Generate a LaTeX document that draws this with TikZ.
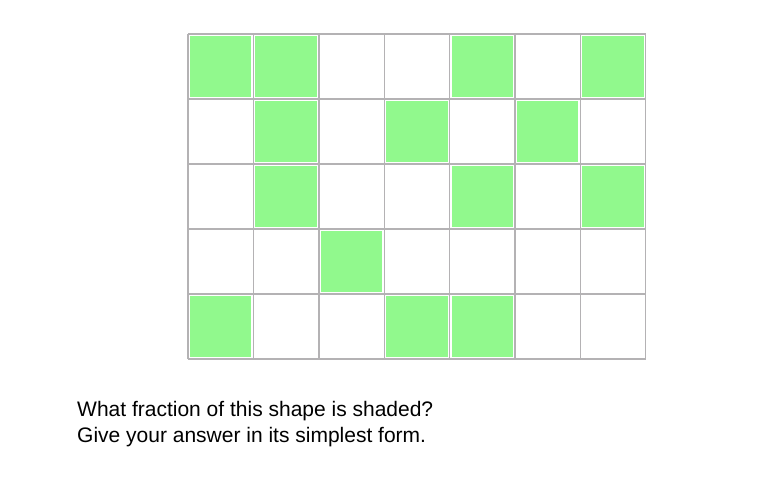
\documentclass[tikz,border=0pt]{standalone}
\usepackage{fontspec}
\setmainfont{Liberation Sans}
\usepackage{xcolor}
\usepackage{tikz}
\definecolor{gridline}{HTML}{B4B2B4}
\definecolor{shade}{HTML}{91F98D}
\definecolor{text}{HTML}{000000}
\tikzset{
  cell/.style={draw=gridline, line width=1.4pt, xstep=65.4pt, ystep=65pt},
  filled/.style={fill=shade},
  question/.style={text=text, font=\fontsize{21}{26}\selectfont, anchor=base west, inner sep=0pt},
}

\begin{document}
\begin{tikzpicture}[x=65.4pt, y=65pt]
  \useasboundingbox (-188pt,-118pt) rectangle (590pt,359pt);

  % shaded squares, (column,row) counted from the bottom left
  \foreach \c/\r in {0/4,1/4,4/4,6/4, 1/3,3/3,5/3, 1/2,4/2,6/2, 2/1, 0/0,3/0,4/0}
    \fill[filled] ([shift={(2pt,2pt)}]\c,\r) rectangle ([shift={(-2pt,-2pt)}]\c+1,\r+1);

  \draw[cell] (0,0) grid (7,5);

  \node[question] (ask) at (-111pt,-57pt) {What fraction of this shape is shaded?};
  \node[question] (form) at (-111pt,-83pt) {Give your answer in its simplest form.};
\end{tikzpicture}
\end{document}
